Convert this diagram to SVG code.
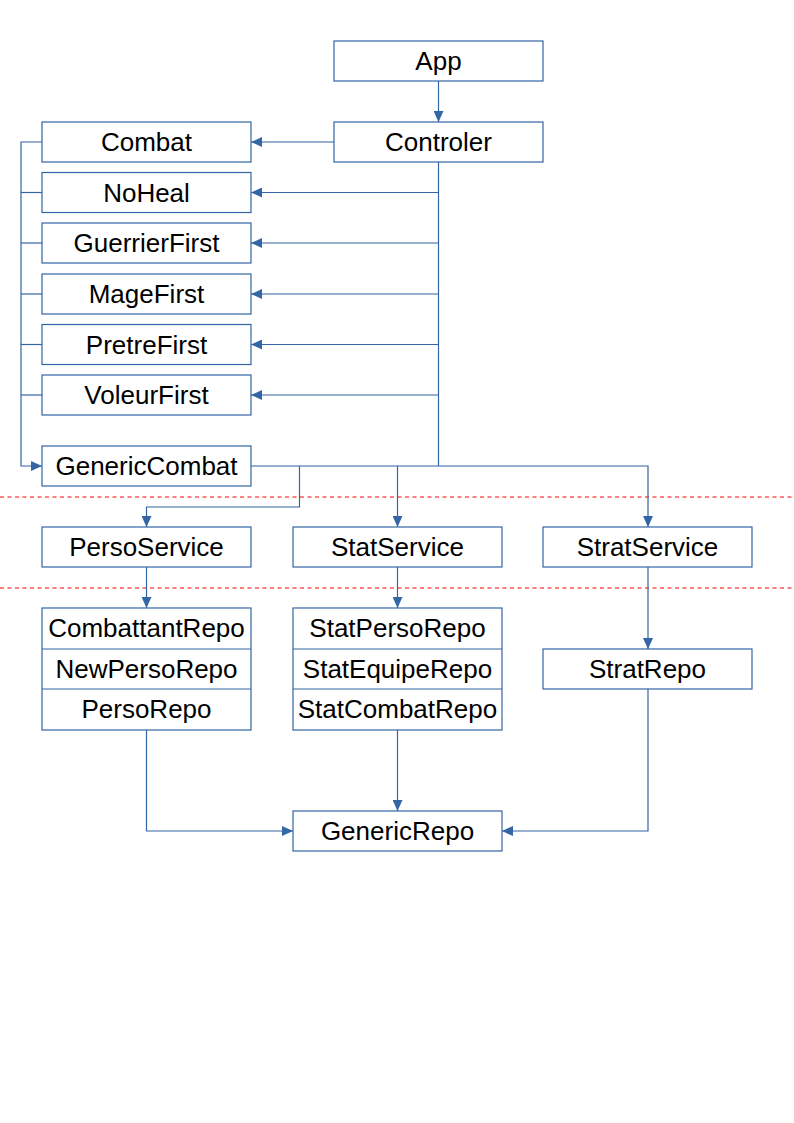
<svg xmlns="http://www.w3.org/2000/svg" width="794" height="1123" viewBox="0 0 794 1123">
<style>
.box{fill:#ffffff;stroke:#3465a4;stroke-width:1.2}
.sep{fill:none;stroke:#3465a4;stroke-width:1.2}
.lbl{font-family:"Liberation Sans",Arial,sans-serif;font-size:26px;fill:#000000;text-anchor:middle}
.con{fill:none;stroke:#3465a4;stroke-width:1.2}
.arr{marker-end:url(#ah)}
.dash{fill:none;stroke:#ff0000;stroke-width:1;stroke-dasharray:4 3.5}
</style>
<defs>
<marker id="ah" markerUnits="userSpaceOnUse" markerWidth="11" markerHeight="10" refX="11" refY="5" orient="auto" viewBox="0 0 11 10">
<path d="M0,0 L11,5 L0,10 z" fill="#3465a4"/>
</marker>
</defs>
<rect width="794" height="1123" fill="#ffffff"/>
<g id="separators">
<line class="dash" x1="0" y1="497" x2="794" y2="497"/>
<line class="dash" x1="0" y1="588" x2="794" y2="588"/>
</g>
<g id="connectors">
<line class="con arr" x1="438.5" y1="81" x2="438.5" y2="122"/>
<line class="con arr" x1="334" y1="142" x2="251" y2="142"/>
<polyline class="con" points="438.5,162 438.5,466"/>
<line class="con arr" x1="438.5" y1="192.5" x2="251" y2="192.5"/>
<line class="con arr" x1="438.5" y1="243" x2="251" y2="243"/>
<line class="con arr" x1="438.5" y1="294" x2="251" y2="294"/>
<line class="con arr" x1="438.5" y1="344.5" x2="251" y2="344.5"/>
<line class="con arr" x1="438.5" y1="395" x2="251" y2="395"/>
<polyline class="con arr" points="42,142 21,142 21,466 42,466"/>
<line class="con" x1="21" y1="192.5" x2="42" y2="192.5"/>
<line class="con" x1="21" y1="243" x2="42" y2="243"/>
<line class="con" x1="21" y1="294" x2="42" y2="294"/>
<line class="con" x1="21" y1="344.5" x2="42" y2="344.5"/>
<line class="con" x1="21" y1="395" x2="42" y2="395"/>
<polyline class="con arr" points="251,466 648,466 648,527"/>
<line class="con arr" x1="397.5" y1="466" x2="397.5" y2="527"/>
<polyline class="con arr" points="299.5,466 299.5,507 146.5,507 146.5,527"/>
<line class="con arr" x1="146.5" y1="567" x2="146.5" y2="608"/>
<line class="con arr" x1="397.5" y1="567" x2="397.5" y2="608"/>
<line class="con arr" x1="648" y1="567" x2="648" y2="649"/>
<polyline class="con arr" points="146.5,730 146.5,831 293,831"/>
<line class="con arr" x1="397.5" y1="730" x2="397.5" y2="811"/>
<polyline class="con arr" points="648,689 648,831 502,831"/>
</g>
<g id="App"><rect class="box" x="334" y="41" width="209" height="40"/><text class="lbl" x="438.5" y="70">App</text></g>
<g id="Controler"><rect class="box" x="334" y="122" width="209" height="40"/><text class="lbl" x="438.5" y="151">Controler</text></g>
<g id="Combat"><rect class="box" x="42" y="122" width="209" height="40"/><text class="lbl" x="146.5" y="151">Combat</text></g>
<g id="NoHeal"><rect class="box" x="42" y="172.5" width="209" height="40"/><text class="lbl" x="146.5" y="201.5">NoHeal</text></g>
<g id="GuerrierFirst"><rect class="box" x="42" y="223" width="209" height="40"/><text class="lbl" x="146.5" y="252">GuerrierFirst</text></g>
<g id="MageFirst"><rect class="box" x="42" y="274" width="209" height="40"/><text class="lbl" x="146.5" y="303">MageFirst</text></g>
<g id="PretreFirst"><rect class="box" x="42" y="324.5" width="209" height="40"/><text class="lbl" x="146.5" y="353.5">PretreFirst</text></g>
<g id="VoleurFirst"><rect class="box" x="42" y="375" width="209" height="40"/><text class="lbl" x="146.5" y="404">VoleurFirst</text></g>
<g id="GenericCombat"><rect class="box" x="42" y="446" width="209" height="40"/><text class="lbl" x="146.5" y="475">GenericCombat</text></g>
<g id="PersoService"><rect class="box" x="42" y="527" width="209" height="40"/><text class="lbl" x="146.5" y="556">PersoService</text></g>
<g id="StatService"><rect class="box" x="293" y="527" width="209" height="40"/><text class="lbl" x="397.5" y="556">StatService</text></g>
<g id="StratService"><rect class="box" x="543" y="527" width="209" height="40"/><text class="lbl" x="647.5" y="556">StratService</text></g>
<g id="PersoRepos">
<rect class="box" x="42" y="608" width="209" height="122"/>
<line class="sep" x1="42" y1="649" x2="251" y2="649"/>
<line class="sep" x1="42" y1="689" x2="251" y2="689"/>
<text class="lbl" x="146.5" y="637">CombattantRepo</text>
<text class="lbl" x="146.5" y="678">NewPersoRepo</text>
<text class="lbl" x="146.5" y="718">PersoRepo</text>
</g>
<g id="StatRepos">
<rect class="box" x="293" y="608" width="209" height="122"/>
<line class="sep" x1="293" y1="649" x2="502" y2="649"/>
<line class="sep" x1="293" y1="689" x2="502" y2="689"/>
<text class="lbl" x="397.5" y="637">StatPersoRepo</text>
<text class="lbl" x="397.5" y="678">StatEquipeRepo</text>
<text class="lbl" x="397.5" y="718">StatCombatRepo</text>
</g>
<g id="StratRepo"><rect class="box" x="543" y="649" width="209" height="40"/><text class="lbl" x="647.5" y="678">StratRepo</text></g>
<g id="GenericRepo"><rect class="box" x="293" y="811" width="209" height="40"/><text class="lbl" x="397.5" y="840">GenericRepo</text></g>
</svg>
